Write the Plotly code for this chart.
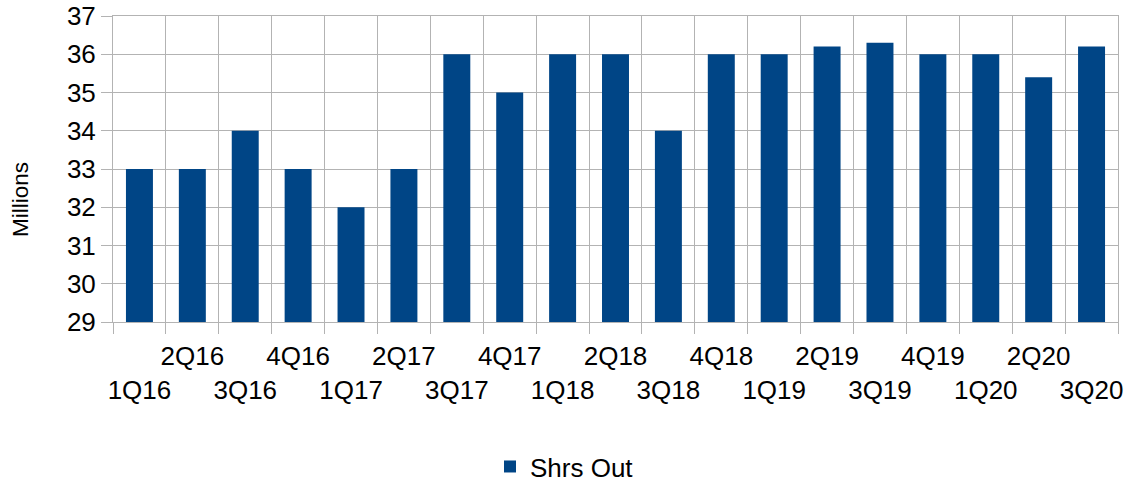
import plotly.graph_objects as go

categories = ["1Q16", "2Q16", "3Q16", "4Q16", "1Q17", "2Q17", "3Q17", "4Q17",
              "1Q18", "2Q18", "3Q18", "4Q18", "1Q19", "2Q19", "3Q19", "4Q19",
              "1Q20", "2Q20", "3Q20"]
shrs_out = [33, 33, 34, 33, 32, 33, 36, 35, 36, 36, 34, 36, 36, 36.2, 36.3, 36, 36, 35.4, 36.2]
series_name = "Shrs Out"
y_title = "Millions"

# staggered tick labels: even positions on lower row, odd on upper row
tick_text = [c if i % 2 == 1 else "<br>" + c for i, c in enumerate(categories)]

FONT = "Liberation Sans, Arial, sans-serif"
GRID = "#b3b3b3"

fig = go.Figure()
fig.add_trace(go.Bar(
    x=categories, y=shrs_out, name=series_name,
    marker=dict(color="#004586", line=dict(width=0)),
    showlegend=True,
))

fig.update_layout(
    width=1129, height=483,
    margin=dict(l=113, r=11, t=16, b=161),
    paper_bgcolor="white", plot_bgcolor="white",
    font=dict(family=FONT, size=26, color="black"),
    bargap=0.49,
    showlegend=True,
    legend=dict(orientation="h", xref="container", x=0.5, xanchor="center",
                yref="container", y=0.034, yanchor="middle",
                font=dict(size=26), itemwidth=30),
    xaxis=dict(
        type="category", tickmode="array", tickvals=categories, ticktext=tick_text,
        tickson="boundaries", ticks="outside", ticklen=11, tickcolor=GRID,
        showgrid=True, gridcolor=GRID, gridwidth=1,
        showline=True, linecolor=GRID, mirror=True,
        tickangle=0, tickfont=dict(size=26), automargin=False,
        ticklabelstandoff=11,
    ),
    yaxis=dict(
        range=[29, 37], dtick=1, tick0=29,
        ticks="outside", ticklen=11, tickcolor=GRID,
        showgrid=True, gridcolor=GRID, gridwidth=1,
        showline=True, linecolor=GRID, mirror=True,
        zeroline=False, tickfont=dict(size=26), automargin=False,
    ),
    annotations=[dict(
        text=y_title, textangle=-90, showarrow=False,
        xref="paper", yref="paper", x=-0.0915, y=0.399,
        xanchor="center", yanchor="middle",
        font=dict(size=22.5, family=FONT, color="black"),
    )],
)

fig.write_html("out.html", config={"displayModeBar": False},
               post_script="document.body.style.margin='0';")
